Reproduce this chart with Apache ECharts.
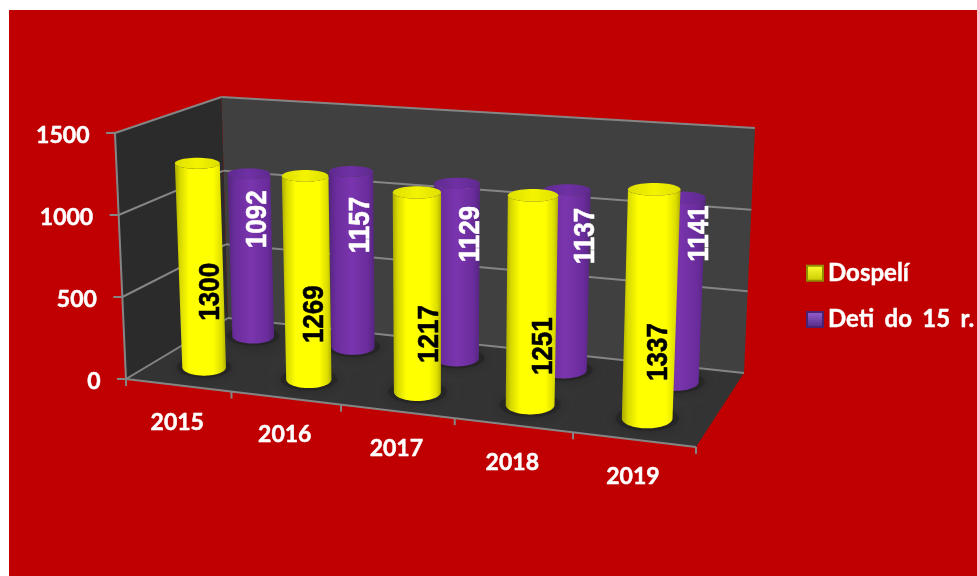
<!DOCTYPE html>
<html><head><meta charset="utf-8">
<script src="https://cdn.jsdelivr.net/npm/echarts@6/dist/echarts.min.js"></script>
<style>
html,body{margin:0;padding:0;background:#fff;width:977px;height:576px;overflow:hidden}
#bg{position:absolute;left:9px;top:10px;width:968px;height:566px;background:#c00000}
#c{position:absolute;left:0;top:0;width:977px;height:576px}
</style></head><body><div id="bg"></div><div id="c"></div>
<script>
const categories = ['2015','2016','2017','2018','2019'];
const adults = [1300,1269,1217,1251,1337];
const children = [1092,1157,1129,1137,1141];
const valueTicks = [0,500,1000,1500];
const adultName = 'Dospelí';
const childName = 'Deti do 15 r.';

// pinhole-like projection of the chart box: floor quad (front-left, front-right, back-right, back-left),
// a vertical vanishing point, and a wall height that grows towards the viewer
function homography(q){
  const [x0,y0]=q[0],[x1,y1]=q[1],[x2,y2]=q[2],[x3,y3]=q[3];
  const sx=x0-x1+x2-x3, sy=y0-y1+y2-y3, dx1=x1-x2, dx2=x3-x2, dy1=y1-y2, dy2=y3-y2;
  const den=dx1*dy2-dx2*dy1, g=(sx*dy2-dx2*sy)/den, h=(dx1*sy-sx*dy1)/den;
  const a=x1-x0+g*x1, b=x3-x0+h*x3, d=y1-y0+g*y1, e=y3-y0+h*y3;
  return (u,z)=>{const w=g*u+h*z+1; return [(a*u+b*z+x0)/w,(d*u+e*z+y0)/w];};
}
const floorH = homography([[126,379],[696,447],[744,373],[228,318]]);
const VP=[435,7275];
function P(u,v,z){
  const a=floorH(u,z), H=0.0024*a[0]+0.4138*a[1]+88.9, t=H*v;
  return [a[0]+(a[0]-VP[0])/(VP[1]-a[1])*t, a[1]-t];
}
function uv(api,params,cat,val){
  const r=params.coordSys, c=api.coord([cat,val]);
  return [(c[0]-r.x)/r.width, (r.y+r.height-c[1])/r.height];
}
const lineColor='#858585';
function line(a,b,w){return {type:'line',shape:{x1:a[0],y1:a[1],x2:b[0],y2:b[1]},style:{stroke:lineColor,lineWidth:w||2}};}
function poly(points,fill,extra){return {type:'polygon',shape:{points},style:Object.assign({fill},extra||{})};}
const tickStyle={fill:'#fff',font:'bold 23px Lato',stroke:'#fff',lineWidth:0.5};

function renderFrame(params,api){
  const n=categories.length, kids=[];
  kids.push(poly([P(0,0,1),P(1,0,1),P(1,1,1),P(0,1,1)],'#404040'));
  kids.push(poly([P(0,0,0),P(0,0,1),P(0,1,1),P(0,1,0)],'#2b2b2b'));
  kids.push(poly([P(0,0,0),P(1,0,0),P(1,0,1),P(0,0,1)],'#333333'));
  valueTicks.forEach(t=>{
    const v=uv(api,params,0,t)[1];
    const a=P(0,v,0),b=P(0,v,1),c=P(1,v,1);
    kids.push(line(a,b),line(b,c),line([a[0]-9,a[1]],a));
    kids.push({type:'text',x:a[0]-25.5,y:a[1]+2.5,style:Object.assign({text:String(t),align:'right',verticalAlign:'middle'},tickStyle)});
  });
  kids.push(line(P(0,0,0),P(0,1,0)));
  kids.push(line(P(0,0,0),P(1,0,0)));
  for(let k=0;k<=n;k++){const a=P(k/n,0,0);kids.push(line(a,[a[0],a[1]+7]));}
  categories.forEach((c,i)=>{
    const u=uv(api,params,i,0)[0],a=P(u,0,0);
    kids.push({type:'text',x:a[0]-1,y:a[1]+37,style:Object.assign({text:c,align:'center',verticalAlign:'middle'},tickStyle)});
  });
  return {type:'group',children:kids};
}

const RU=0.0425, RZ=0.13, STEPS=48, HEIGHT_SCALE=0.975, U_SHIFT=-0.004;
// a level ellipse around the projected centre; its radii come from the projection
function ellipse(u,v,z,k,from,to){
  const c=P(u,v,z), rx=(P(u+RU*k,v,z)[0]-P(u-RU*k,v,z)[0])/2, ry=(P(u,v,z-RZ*k)[1]-P(u,v,z+RZ*k)[1])/2;
  const pts=[];
  for(let i=0;i<=STEPS;i++){const t=from+(to-from)*i/STEPS;pts.push([c[0]+rx*Math.cos(t),c[1]+ry*Math.sin(t)]);}
  return pts;
}
function grad(stops){return new echarts.graphic.LinearGradient(0,0,1,0,stops.map(c=>({offset:c[0],color:c[1]})));}
function cylinder(z,body,cap,labelColor,lift,shift){
  return function(params,api){
    const i=api.value(0), val=api.value(1), q=uv(api,params,i,val), u=q[0]+U_SHIFT, v=q[1]*HEIGHT_SCALE;
    const kids=[];
    kids.push(poly(ellipse(u,0,z,1.25,0,Math.PI*2),'rgba(30,30,30,0.5)',{shadowBlur:12,shadowColor:'rgba(25,25,25,0.9)'}));
    const side=ellipse(u,0,z,1,0,Math.PI).concat(ellipse(u,v,z,1,Math.PI,0));
    kids.push(poly(side,grad(body)));
    kids.push(poly(ellipse(u,v,z,1,0,Math.PI*2),grad(cap)));
    const b=P(u,0,z),t=P(u,v,z);
    kids.push({type:'text',x:(b[0]+t[0])/2+shift[i],y:b[1]+(t[1]-b[1])*lift[i],rotation:Math.PI/2,scaleY:1.15,
      style:{text:String(val),fill:labelColor,stroke:labelColor,lineWidth:0.5,font:'bold 26px "Liberation Sans"',align:'center',verticalAlign:'middle'}});
    return {type:'group',children:kids};
  };
}
const yellowBody=[[0,'#a9a900'],[0.1,'#d8d800'],[0.28,'#ffff00'],[0.75,'#ffff00'],[0.92,'#dcdc00'],[1,'#b0b000']];
const yellowCap=[[0,'#dede00'],[0.5,'#f4f400'],[1,'#dede00']];
const purpleBody=[[0,'#55257f'],[0.15,'#6a2c9c'],[0.5,'#7a35ae'],[0.85,'#6a2c9c'],[1,'#55257f']];
const purpleCap=[[0,'#5f2a90'],[0.5,'#6f30a4'],[1,'#5f2a90']];
const vgrad=(a,b)=>new echarts.graphic.LinearGradient(0,0,0,1,[{offset:0,color:a},{offset:1,color:b}]);

const chart=echarts.init(document.getElementById('c'),null,{renderer:'canvas'});
chart.setOption({
  animation:false,
  backgroundColor:'transparent',
  grid:{left:100,right:100,top:100,bottom:100},
  xAxis:{type:'category',data:categories,show:false},
  yAxis:{type:'value',min:0,max:1500,interval:500,show:false},
  legend:{data:[{name:adultName,icon:'rect'},{name:childName,icon:'rect'}],orient:'vertical',left:801,top:256,
    itemWidth:16,itemHeight:15,itemGap:22,selectedMode:false,
    formatter:n=>n.replace(/ /g,' \u2009\u200A'),
    textStyle:{color:'#fff',fontFamily:'Lato',fontWeight:'bold',fontSize:24,textBorderColor:'#fff',textBorderWidth:0.4}},
  series:[
    {type:'custom',name:'frame',silent:true,data:[[0,0]],encode:{x:0,y:1},clip:false,renderItem:renderFrame,z:1},
    {type:'custom',name:childName,data:children.map((v,i)=>[i,v]),encode:{x:0,y:1},clip:false,z:2,
      itemStyle:{color:vgrad('#9a60d0','#4f2a86'),borderColor:'#4b2270',borderWidth:1},
      renderItem:cylinder(0.77,purpleBody,purpleCap,'#fff',[0.72,0.695,0.71,0.745,0.805],[7,9,14,20,22])},
    {type:'custom',name:adultName,data:adults.map((v,i)=>[i,v]),encode:{x:0,y:1},clip:false,z:3,
      itemStyle:{color:vgrad('#ffff33','#c8c800'),borderColor:'#8f8f00',borderWidth:1},
      renderItem:cylinder(0.265,yellowBody,yellowCap,'#000',[0.37,0.32,0.29,0.28,0.29],[10,8,13,12,8])}
  ]
});
</script></body></html>
